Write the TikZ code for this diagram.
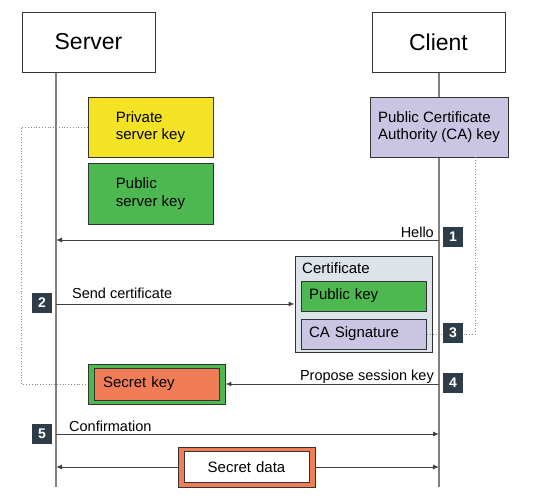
\documentclass[tikz,border=0pt]{standalone}
\usepackage{fontspec}
\setmainfont{Liberation Sans}
\usetikzlibrary{arrows.meta,positioning,calc}

\definecolor{keyyellow}{HTML}{F4E224}
\definecolor{keygreen}{HTML}{4DB84F}
\definecolor{keylilac}{HTML}{C9C5E2}
\definecolor{keyorange}{HTML}{F17D57}
\definecolor{certgray}{HTML}{DDE4E9}
\definecolor{badgeslate}{HTML}{2D3C46}

\begin{document}
\begin{tikzpicture}[x=1pt, y=-1pt,
  party/.style={rectangle, draw=black!80, line width=0.8pt, fill=white, minimum width=133pt, minimum height=60pt, font=\fontsize{23}{27}\selectfont},
  keybox/.style={rectangle, draw=black!80, line width=0.8pt, minimum width=125pt, minimum height=60pt, align=left, font=\fontsize{15}{17.5}\selectfont},
  slot/.style={rectangle, draw=black!80, line width=0.8pt, minimum width=125pt, minimum height=30pt, inner sep=8pt, text width=109pt, align=left, font=\fontsize{15}{17.5}\selectfont},
  frame/.style={rectangle, draw=black!80, line width=0.8pt, minimum width=137pt, minimum height=40pt, inner sep=0pt},
  badge/.style={rectangle, fill=badgeslate, text=white, minimum size=20pt, inner sep=0pt, font=\fontsize{14}{14}\selectfont\bfseries},
  lbl/.style={inner sep=0pt, font=\fontsize{14.5}{17}\selectfont},
  life/.style={draw=black!50, line width=1.3pt},
  msg/.style={draw=black!75, line width=1pt, -{Latex[length=6pt,width=5pt]}},
  dotline/.style={draw=black!45, line width=0.8pt, dotted}
]
\useasboundingbox (0,0) rectangle (538,500);

% lifelines
\coordinate (stop) at (56,72);
\coordinate (sbot) at (56,487);
\coordinate (cbot) at (439,487);
\draw[life] (stop) -- (sbot);
\draw[life] (439,72) -- (cbot);

% parties
\node[party] (srv) at (88.5,42) {Server};
\node[party] (cli) at (438.5,42) {Client};

% keys
\node[keybox, fill=keyyellow] (prvkey) at (150.5,127) {Private\\server key};
\node[keybox, fill=keygreen, minimum height=61pt] (pubkey) at (150.5,193.5) {Public\\server key};
\node[keybox, fill=keylilac, minimum width=138pt, inner sep=3pt] (cakey) at (439,127) {Public Certificate\\Authority (CA) key};

% certificate
\node[rectangle, draw=black!80, line width=0.8pt, fill=certgray, minimum width=137pt, minimum height=96pt] (cert) at (363.5,304) {};
\node[lbl, anchor=base west, font=\fontsize{15}{17}\selectfont] (certlbl) at (302,273) {Certificate};
\node[slot, fill=keygreen] (cpub) at (363.5,296) {Public key};
\node[slot, fill=keylilac] (csig) at (363.5,334) {CA Signature};

% secret key
\node[frame, fill=keygreen] (skout) at (156.5,384) {};
\node[slot, fill=keyorange, inner sep=9pt, text width=107pt] (skin) at (156.5,384) {Secret key};

% secret data
\node[frame, fill=keyorange] (sdo) at (246.5,467) {};
\node[slot, fill=white, minimum height=31pt, align=center] (sdi) at (246.5,467) {Secret data};

% dotted links
\draw[dotline] (prvkey.west) -- ++(-66,0) |- (skout.west);
\draw[dotline] (cakey.south east) ++(-33,0) |- (csig.east);

% messages
\coordinate (c1) at (439,240);
\coordinate (s1) at (56,240);
\coordinate (s2) at (56,304);
\coordinate (c4) at (439,384);
\coordinate (s5) at (56,434);
\coordinate (c5) at (439,434);
\coordinate (s6) at (56,467);
\coordinate (c6) at (439,467);

\draw[msg] (c1) -- (s1);
\draw[msg] (s2) -- (cert);
\draw[msg] (c4) -- (skout);
\draw[msg] (s5) -- (c5);
\draw[msg, {Latex[length=6pt,width=5pt]}-] (s6) -- (sdo);
\draw[msg] (sdo) -- (c6);

\node[lbl, anchor=base east] (hello) at (434,237) {Hello};
\node[lbl, anchor=base west] (sendlbl) at (72,298) {Send certificate};
\node[lbl, anchor=base east] (proplbl) at (434,380) {Propose session key};
\node[lbl, anchor=base west] (conflbl) at (69,431) {Confirmation};

% step badges
\node[badge] (b1) at (453,237) {1};
\node[badge] (b2) at (42,303) {2};
\node[badge] (b3) at (453,333) {3};
\node[badge] (b4) at (453,383) {4};
\node[badge] (b5) at (42,433.5) {5};

\end{tikzpicture}
\end{document}
